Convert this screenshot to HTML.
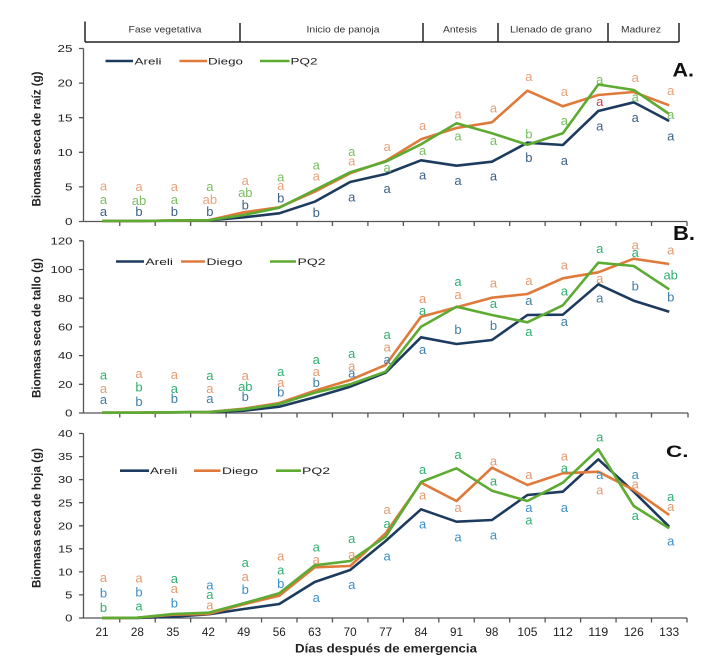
<!DOCTYPE html>
<html><head><meta charset="utf-8">
<style>
html,body{margin:0;padding:0;background:#fff;}
svg{display:block;font-family:"Liberation Sans",Arial,sans-serif;}
.tk{font-size:10px;fill:#222;}
.xt{font-size:11.5px;fill:#222;}
.hd{font-size:9.3px;fill:#333;}
.lg{font-size:9.5px;fill:#222;}
.yt{font-size:12px;font-weight:bold;fill:#222;}
.pl{font-weight:bold;fill:#111;}
.L{font-size:13px;text-anchor:middle;}
.aA{fill:#3d6189}.aD{fill:#eba07a}.aP{fill:#78bf5f}.aR{fill:#c8404e}
.bA{fill:#3f7ea6}.bD{fill:#e59b70}.bP{fill:#2fb070}
.cA{fill:#3a90c8}.cD{fill:#e59a70}.cP{fill:#30b070}
.sA{stroke:#1d3b5e}.sD{stroke:#e07a3b}.sP{stroke:#5dab32}
.ln{fill:none;stroke-width:2.6;stroke-linejoin:round;}
.ax{stroke:#555;stroke-width:1.3;fill:none;}
</style></head>
<body>
<svg width="712" height="668" viewBox="0 0 712 668" xmlns="http://www.w3.org/2000/svg">
<rect width="712" height="668" fill="#fff"/>

<!-- Header -->
<g stroke="#222" stroke-width="1.5" fill="none">
<line x1="85" y1="21.5" x2="85" y2="42"/>
<line x1="85" y1="42" x2="679" y2="42"/>
<line x1="240" y1="23" x2="240" y2="42"/>
<line x1="423" y1="23" x2="423" y2="42"/>
<line x1="498" y1="23" x2="498" y2="42"/>
<line x1="608" y1="23" x2="608" y2="42"/>
<line x1="679" y1="23" x2="679" y2="42"/>
</g>
<text class="hd" x="165" y="32.5" text-anchor="middle" textLength="73" lengthAdjust="spacingAndGlyphs">Fase vegetativa</text>
<text class="hd" x="343" y="32.5" text-anchor="middle" textLength="73" lengthAdjust="spacingAndGlyphs">Inicio de panoja</text>
<text class="hd" x="460" y="32.5" text-anchor="middle" textLength="34" lengthAdjust="spacingAndGlyphs">Antesis</text>
<text class="hd" x="551" y="32.5" text-anchor="middle" textLength="82" lengthAdjust="spacingAndGlyphs">Llenado de grano</text>
<text class="hd" x="641" y="32.5" text-anchor="middle" textLength="40" lengthAdjust="spacingAndGlyphs">Madurez</text>

<!-- ============ PANEL A ============ -->
<g class="ax">
<line x1="83.5" y1="48.5" x2="83.5" y2="221.5"/>
<line x1="83.5" y1="221.5" x2="687" y2="221.5"/>
<path d="M79,48.5H83.5M79,83.1H83.5M79,117.7H83.5M79,152.3H83.5M79,186.9H83.5M79,221.5H83.5"/>
<path d="M119.75,221.5v4.5M155.2,221.5v4.5M190.65,221.5v4.5M226.1,221.5v4.5M261.55,221.5v4.5M297,221.5v4.5M332.45,221.5v4.5M367.9,221.5v4.5M403.35,221.5v4.5M438.8,221.5v4.5M474.25,221.5v4.5M509.7,221.5v4.5M545.15,221.5v4.5M580.6,221.5v4.5M616.05,221.5v4.5M651.5,221.5v4.5M687,221.5v4.5"/>
</g>
<g class="tk" text-anchor="end">
<text x="72.5" y="52.1" textLength="15" lengthAdjust="spacingAndGlyphs">25</text>
<text x="72.5" y="86.7" textLength="15" lengthAdjust="spacingAndGlyphs">20</text>
<text x="72.5" y="121.3" textLength="15" lengthAdjust="spacingAndGlyphs">15</text>
<text x="72.5" y="155.9" textLength="15" lengthAdjust="spacingAndGlyphs">10</text>
<text x="72.5" y="190.5" textLength="7.5" lengthAdjust="spacingAndGlyphs">5</text>
<text x="72.5" y="225.1" textLength="7.5" lengthAdjust="spacingAndGlyphs">0</text>
</g>
<text class="yt" transform="translate(40.5,139) rotate(-90)" text-anchor="middle" textLength="135" lengthAdjust="spacingAndGlyphs">Biomasa seca  de raíz (g)</text>
<text class="pl" x="672.5" y="76.5" font-size="19" textLength="21.5" lengthAdjust="spacingAndGlyphs">A.</text>
<!-- legend A -->
<line x1="105.5" y1="61" x2="133" y2="61" class="ln sA"/>
<text class="lg" x="134.5" y="64.5" textLength="27" lengthAdjust="spacingAndGlyphs">Areli</text>
<line x1="179.5" y1="61" x2="207" y2="61" class="ln sD"/>
<text class="lg" x="208" y="64.5" textLength="35" lengthAdjust="spacingAndGlyphs">Diego</text>
<line x1="260" y1="61" x2="289.5" y2="61" class="ln sP"/>
<text class="lg" x="290.5" y="64.5" textLength="27" lengthAdjust="spacingAndGlyphs">PQ2</text>
<!-- series A -->
<polyline class="ln sA" points="102,221 137.45,221 172.9,220.6 208.35,220.3 243.8,217.3 279.25,213.3 314.7,201.7 350.15,182 385.6,174 421.05,160.3 456.5,165.7 491.95,161.7 527.4,142.7 562.85,145 598.3,111 633.75,102.3 669.2,121"/>
<polyline class="ln sD" points="102,221 137.45,221 172.9,220.6 208.35,220.3 243.8,212.3 279.25,207.3 314.7,191.7 350.15,173.3 385.6,161 421.05,139.3 456.5,128 491.95,122.3 527.4,90.7 562.85,106.3 598.3,95 633.75,92 669.2,105.3"/>
<polyline class="ln sP" points="102,221 137.45,221 172.9,220.6 208.35,220.3 243.8,215 279.25,207.7 314.7,190 350.15,172.3 385.6,161.7 421.05,144.3 456.5,123.3 491.95,133.3 527.4,144.7 562.85,133.3 598.3,84.5 633.75,90 669.2,114"/>
<!-- letters A -->
<g class="L">
<text class="aD" x="103.5" y="190.5">a</text><text class="aP" x="103.5" y="204.1">a</text><text class="aA" x="103.5" y="216.1">a</text>
<text class="aD" x="139" y="191.1">a</text><text class="aP" x="139" y="205.1">ab</text><text class="aA" x="139" y="216.1">b</text>
<text class="aD" x="174.4" y="191.1">a</text><text class="aP" x="174.4" y="204.1">a</text><text class="aA" x="174.4" y="216.1">b</text>
<text class="aP" x="209.9" y="191.1">a</text><text class="aD" x="209.9" y="203.8">ab</text><text class="aA" x="209.9" y="216.1">b</text>
<text class="aD" x="245.3" y="184.8">a</text><text class="aP" x="245.3" y="197.1">ab</text><text class="aA" x="245.3" y="209.5">b</text>
<text class="aP" x="280.8" y="181.5">a</text><text class="aD" x="280.8" y="189.8">a</text><text class="aA" x="280.8" y="202.5">b</text>
<text class="aP" x="316.2" y="169.5">a</text><text class="aD" x="316.2" y="180.5">a</text><text class="aA" x="316.2" y="217.1">b</text>
<text class="aP" x="351.7" y="156.1">a</text><text class="aD" x="351.7" y="165.5">a</text><text class="aA" x="351.7" y="201.5">a</text>
<text class="aD" x="387.1" y="150.8">a</text><text class="aP" x="387.1" y="172.1">a</text><text class="aA" x="387.1" y="193.1">a</text>
<text class="aD" x="422.6" y="129.8">a</text><text class="aP" x="422.6" y="154.8">a</text><text class="aA" x="422.6" y="179.5">a</text>
<text class="aD" x="458" y="118.5">a</text><text class="aP" x="458" y="140.5">a</text><text class="aA" x="458" y="184.8">a</text>
<text class="aD" x="493.5" y="112.5">a</text><text class="aP" x="493.5" y="144.8">a</text><text class="aA" x="493.5" y="180.5">a</text>
<text class="aD" x="528.9" y="81.1">a</text><text class="aP" x="528.9" y="138.5">b</text><text class="aA" x="528.9" y="161.8">b</text>
<text class="aD" x="564.4" y="96.1">a</text><text class="aP" x="564.4" y="124.8">a</text><text class="aA" x="564.4" y="164.8">a</text>
<text class="aP" x="599.8" y="83.8">a</text><text class="aR" x="599.8" y="106.1">a</text><text class="aA" x="599.8" y="130.5">a</text>
<text class="aD" x="635.3" y="82.1">a</text><text class="aP" x="635.3" y="101.5">a</text><text class="aA" x="635.3" y="122.1">a</text>
<text class="aD" x="670.7" y="95.1">a</text><text class="aP" x="670.7" y="118.8">a</text><text class="aA" x="670.7" y="140.5">a</text>
</g>

<!-- ============ PANEL B ============ -->
<g class="ax">
<line x1="83.5" y1="240.8" x2="83.5" y2="413"/>
<line x1="83.5" y1="413" x2="688" y2="413"/>
<path d="M79,240.8H83.5M79,269.5H83.5M79,298.2H83.5M79,326.9H83.5M79,355.6H83.5M79,384.3H83.5M79,413H83.5"/>
<path d="M119.75,413v4.5M155.2,413v4.5M190.65,413v4.5M226.1,413v4.5M261.55,413v4.5M297,413v4.5M332.45,413v4.5M367.9,413v4.5M403.35,413v4.5M438.8,413v4.5M474.25,413v4.5M509.7,413v4.5M545.15,413v4.5M580.6,413v4.5M616.05,413v4.5M651.5,413v4.5M688,413v4.5"/>
</g>
<g class="tk" text-anchor="end">
<text x="72.5" y="244.4" textLength="22" lengthAdjust="spacingAndGlyphs">120</text>
<text x="72.5" y="273.1" textLength="22" lengthAdjust="spacingAndGlyphs">100</text>
<text x="72.5" y="301.8" textLength="14.5" lengthAdjust="spacingAndGlyphs">80</text>
<text x="72.5" y="330.5" textLength="14.5" lengthAdjust="spacingAndGlyphs">60</text>
<text x="72.5" y="359.2" textLength="14.5" lengthAdjust="spacingAndGlyphs">40</text>
<text x="72.5" y="387.9" textLength="14.5" lengthAdjust="spacingAndGlyphs">20</text>
<text x="72.5" y="416.6" textLength="7.3" lengthAdjust="spacingAndGlyphs">0</text>
</g>
<text class="yt" transform="translate(40.5,328) rotate(-90)" text-anchor="middle" textLength="140" lengthAdjust="spacingAndGlyphs">Biomasa seca  de tallo (g)</text>
<text class="pl" x="673" y="240" font-size="20" textLength="22" lengthAdjust="spacingAndGlyphs">B.</text>
<!-- legend B -->
<line x1="116" y1="261.5" x2="144" y2="261.5" class="ln sA"/>
<text class="lg" x="145.5" y="265" textLength="27.5" lengthAdjust="spacingAndGlyphs">Areli</text>
<line x1="181" y1="261.5" x2="205" y2="261.5" class="ln sD"/>
<text class="lg" x="206.5" y="265" textLength="36" lengthAdjust="spacingAndGlyphs">Diego</text>
<line x1="270" y1="261.5" x2="296" y2="261.5" class="ln sP"/>
<text class="lg" x="297.5" y="265" textLength="28" lengthAdjust="spacingAndGlyphs">PQ2</text>
<!-- series B -->
<polyline class="ln sA" points="102,412.7 137.45,412.7 172.9,412.3 208.35,412 243.8,410.7 279.25,406.7 314.7,397.3 350.15,386.7 385.6,372.7 421.05,337.3 456.5,344 491.95,340 527.4,315 562.85,314.7 598.3,284.3 633.75,300.7 669.2,311.7"/>
<polyline class="ln sD" points="102,412.7 137.45,412.7 172.9,412.3 208.35,412 243.8,408.7 279.25,403 314.7,390.7 350.15,380 385.6,365 421.05,316.7 456.5,307.3 491.95,297.7 527.4,294 562.85,278.3 598.3,272.3 633.75,258.7 669.2,264"/>
<polyline class="ln sP" points="102,412.7 137.45,412.7 172.9,412.3 208.35,412 243.8,409.3 279.25,404 314.7,392.7 350.15,384.3 385.6,371.7 421.05,326.7 456.5,306.7 491.95,315 527.4,322.3 562.85,305.3 598.3,262.7 633.75,266 669.2,289.3"/>
<!-- letters B -->
<g class="L">
<text class="bP" x="103.5" y="379.5">a</text><text class="bD" x="103.5" y="392.8">a</text><text class="bA" x="103.5" y="403.8">a</text>
<text class="bD" x="139" y="377.8">a</text><text class="bP" x="139" y="391.5">b</text><text class="bA" x="139" y="405.8">b</text>
<text class="bD" x="174.4" y="378.8">a</text><text class="bP" x="174.4" y="392.8">a</text><text class="bA" x="174.4" y="403.1">b</text>
<text class="bP" x="209.9" y="380.1">a</text><text class="bD" x="209.9" y="392.8">a</text><text class="bA" x="209.9" y="402.8">a</text>
<text class="bD" x="245.3" y="379.8">a</text><text class="bP" x="245.3" y="391.1">ab</text><text class="bA" x="245.3" y="400.8">b</text>
<text class="bP" x="280.8" y="375.8">a</text><text class="bD" x="280.8" y="386.8">a</text><text class="bA" x="280.8" y="396.5">b</text>
<text class="bP" x="316.2" y="363.8">a</text><text class="bD" x="316.2" y="375.8">a</text><text class="bA" x="316.2" y="387.1">b</text>
<text class="bP" x="351.7" y="357.8">a</text><text class="bD" x="351.7" y="370.5">a</text><text class="bA" x="351.7" y="377.5">a</text>
<text class="bP" x="387.1" y="338.8">a</text><text class="bD" x="387.1" y="351.5">a</text><text class="bA" x="387.1" y="364.1">a</text>
<text class="bD" x="422.6" y="303.1">a</text><text class="bP" x="422.6" y="314.8">a</text><text class="bA" x="422.6" y="353.8">a</text>
<text class="bP" x="458" y="285.8">a</text><text class="bD" x="458" y="298.8">a</text><text class="bA" x="458" y="333.8">b</text>
<text class="bD" x="493.5" y="287.5">a</text><text class="bP" x="493.5" y="308.1">a</text><text class="bA" x="493.5" y="329.8">b</text>
<text class="bD" x="528.9" y="284.8">a</text><text class="bA" x="528.9" y="305.1">a</text><text class="bP" x="528.9" y="336.1">a</text>
<text class="bD" x="564.4" y="269.5">a</text><text class="bP" x="564.4" y="295.5">a</text><text class="bA" x="564.4" y="326.1">a</text>
<text class="bP" x="599.8" y="253.1">a</text><text class="bD" x="599.8" y="283.1">a</text><text class="bA" x="599.8" y="302.5">a</text>
<text class="bD" x="635.3" y="249.5">a</text><text class="bP" x="635.3" y="257.1">a</text><text class="bA" x="635.3" y="290.5">b</text>
<text class="bD" x="670.7" y="254.5">a</text><text class="bP" x="670.7" y="279.5">ab</text><text class="bA" x="670.7" y="301.5">b</text>
</g>

<!-- ============ PANEL C ============ -->
<g class="ax">
<line x1="83.5" y1="433.5" x2="83.5" y2="618"/>
<line x1="83.5" y1="618" x2="687" y2="618"/>
<path d="M79,433.5H83.5M79,456.6H83.5M79,479.6H83.5M79,502.7H83.5M79,525.8H83.5M79,548.8H83.5M79,571.9H83.5M79,594.9H83.5M79,618H83.5"/>
<path d="M119.75,618v4.5M155.2,618v4.5M190.65,618v4.5M226.1,618v4.5M261.55,618v4.5M297,618v4.5M332.45,618v4.5M367.9,618v4.5M403.35,618v4.5M438.8,618v4.5M474.25,618v4.5M509.7,618v4.5M545.15,618v4.5M580.6,618v4.5M616.05,618v4.5M651.5,618v4.5M687,618v4.5"/>
</g>
<g class="tk" text-anchor="end">
<text x="72.5" y="437.1" textLength="14.5" lengthAdjust="spacingAndGlyphs">40</text>
<text x="72.5" y="460.2" textLength="14.5" lengthAdjust="spacingAndGlyphs">35</text>
<text x="72.5" y="483.2" textLength="14.5" lengthAdjust="spacingAndGlyphs">30</text>
<text x="72.5" y="506.3" textLength="14.5" lengthAdjust="spacingAndGlyphs">25</text>
<text x="72.5" y="529.4" textLength="14.5" lengthAdjust="spacingAndGlyphs">20</text>
<text x="72.5" y="552.4" textLength="14.5" lengthAdjust="spacingAndGlyphs">15</text>
<text x="72.5" y="575.5" textLength="14.5" lengthAdjust="spacingAndGlyphs">10</text>
<text x="72.5" y="598.5" textLength="7.3" lengthAdjust="spacingAndGlyphs">5</text>
<text x="72.5" y="621.6" textLength="7.3" lengthAdjust="spacingAndGlyphs">0</text>
</g>
<text class="yt" transform="translate(40.5,518) rotate(-90)" text-anchor="middle" textLength="140" lengthAdjust="spacingAndGlyphs">Biomasa seca  de hoja (g)</text>
<text class="pl" x="666" y="457" font-size="17" textLength="22.5" lengthAdjust="spacingAndGlyphs">C.</text>
<!-- legend C -->
<line x1="120" y1="470.7" x2="149" y2="470.7" class="ln sA"/>
<text class="lg" x="150" y="474.2" textLength="27.5" lengthAdjust="spacingAndGlyphs">Areli</text>
<line x1="194" y1="470.7" x2="220.5" y2="470.7" class="ln sD"/>
<text class="lg" x="222" y="474.2" textLength="36" lengthAdjust="spacingAndGlyphs">Diego</text>
<line x1="276" y1="470.7" x2="301" y2="470.7" class="ln sP"/>
<text class="lg" x="302" y="474.2" textLength="28" lengthAdjust="spacingAndGlyphs">PQ2</text>
<!-- series C -->
<polyline class="ln sA" points="102,618 137.45,618 172.9,616.7 208.35,614.3 243.8,609 279.25,604 314.7,582 350.15,570 385.6,541 421.05,509.3 456.5,521.7 491.95,520 527.4,495 562.85,491.7 598.3,459.3 633.75,491.7 669.2,526.7"/>
<polyline class="ln sD" points="102,618 137.45,617.7 172.9,614.7 208.35,614 243.8,604.3 279.25,595.7 314.7,567.3 350.15,566 385.6,533.3 421.05,482.7 456.5,501 491.95,467.7 527.4,485 562.85,473.3 598.3,471.7 633.75,490 669.2,515"/>
<polyline class="ln sP" points="102,618 137.45,617.7 172.9,614 208.35,612.7 243.8,603.3 279.25,593.3 314.7,565.3 350.15,561 385.6,536.7 421.05,482 456.5,468.3 491.95,490.7 527.4,501 562.85,482.7 598.3,449.3 633.75,506 669.2,528.3"/>
<!-- letters C -->
<g class="L">
<text class="cD" x="103.5" y="582.1">a</text><text class="cA" x="103.5" y="597.5">b</text><text class="cP" x="103.5" y="612.1">b</text>
<text class="cD" x="139" y="582.5">a</text><text class="cA" x="139" y="596.5">b</text><text class="cP" x="139" y="610.5">a</text>
<text class="cP" x="174.4" y="583.1">a</text><text class="cD" x="174.4" y="593.1">a</text><text class="cA" x="174.4" y="607.5">b</text>
<text class="cA" x="209.9" y="589.5">a</text><text class="cP" x="209.9" y="599.1">a</text><text class="cD" x="209.9" y="609.5">a</text>
<text class="cP" x="245.3" y="567.1">a</text><text class="cD" x="245.3" y="581.1">a</text><text class="cA" x="245.3" y="593.8">b</text>
<text class="cD" x="280.8" y="560.5">a</text><text class="cP" x="280.8" y="574.5">a</text><text class="cA" x="280.8" y="588.1">b</text>
<text class="cP" x="316.2" y="551.5">a</text><text class="cD" x="316.2" y="563.8">a</text><text class="cA" x="316.2" y="602.1">a</text>
<text class="cP" x="351.7" y="543.1">a</text><text class="cD" x="351.7" y="558.8">a</text><text class="cA" x="351.7" y="588.8">a</text>
<text class="cD" x="387.1" y="513.8">a</text><text class="cP" x="387.1" y="527.8">a</text><text class="cA" x="387.1" y="560.5">a</text>
<text class="cP" x="422.6" y="473.8">a</text><text class="cD" x="422.6" y="499.5">a</text><text class="cA" x="422.6" y="528.5">a</text>
<text class="cP" x="458" y="459.1">a</text><text class="cD" x="458" y="512.1">a</text><text class="cA" x="458" y="541.5">a</text>
<text class="cD" x="493.5" y="465.5">a</text><text class="cP" x="493.5" y="485.5">a</text><text class="cA" x="493.5" y="539.5">a</text>
<text class="cD" x="528.9" y="478.8">a</text><text class="cA" x="528.9" y="512.1">a</text><text class="cP" x="528.9" y="524.5">a</text>
<text class="cD" x="564.4" y="460.5">a</text><text class="cP" x="564.4" y="472.5">a</text><text class="cA" x="564.4" y="511.8">a</text>
<text class="cP" x="599.8" y="441.5">a</text><text class="cA" x="599.8" y="478.8">a</text><text class="cD" x="599.8" y="494.5">a</text>
<text class="cA" x="635.3" y="479.1">a</text><text class="cD" x="635.3" y="488.5">a</text><text class="cP" x="635.3" y="519.8">a</text>
<text class="cP" x="670.7" y="500.8">a</text><text class="cD" x="670.7" y="511.1">a</text><text class="cA" x="670.7" y="545.5">a</text>
</g>

<!-- X tick labels -->
<g class="xt" text-anchor="middle">
<text x="102" y="636" textLength="13" lengthAdjust="spacingAndGlyphs">21</text>
<text x="137.45" y="636" textLength="13" lengthAdjust="spacingAndGlyphs">28</text>
<text x="172.9" y="636" textLength="13" lengthAdjust="spacingAndGlyphs">35</text>
<text x="208.35" y="636" textLength="13" lengthAdjust="spacingAndGlyphs">42</text>
<text x="243.8" y="636" textLength="13" lengthAdjust="spacingAndGlyphs">49</text>
<text x="279.25" y="636" textLength="13" lengthAdjust="spacingAndGlyphs">56</text>
<text x="314.7" y="636" textLength="13" lengthAdjust="spacingAndGlyphs">63</text>
<text x="350.15" y="636" textLength="13" lengthAdjust="spacingAndGlyphs">70</text>
<text x="385.6" y="636" textLength="13" lengthAdjust="spacingAndGlyphs">77</text>
<text x="421.05" y="636" textLength="13" lengthAdjust="spacingAndGlyphs">84</text>
<text x="456.5" y="636" textLength="13" lengthAdjust="spacingAndGlyphs">91</text>
<text x="491.95" y="636" textLength="13" lengthAdjust="spacingAndGlyphs">98</text>
<text x="527.4" y="636" textLength="20" lengthAdjust="spacingAndGlyphs">105</text>
<text x="562.85" y="636" textLength="20" lengthAdjust="spacingAndGlyphs">112</text>
<text x="598.3" y="636" textLength="20" lengthAdjust="spacingAndGlyphs">119</text>
<text x="633.75" y="636" textLength="20" lengthAdjust="spacingAndGlyphs">126</text>
<text x="669.2" y="636" textLength="20" lengthAdjust="spacingAndGlyphs">133</text>
</g>
<text x="386" y="652.5" font-size="11.5" font-weight="bold" fill="#222" text-anchor="middle" textLength="182" lengthAdjust="spacingAndGlyphs">Días después de emergencia</text>
</svg>
</body></html>
